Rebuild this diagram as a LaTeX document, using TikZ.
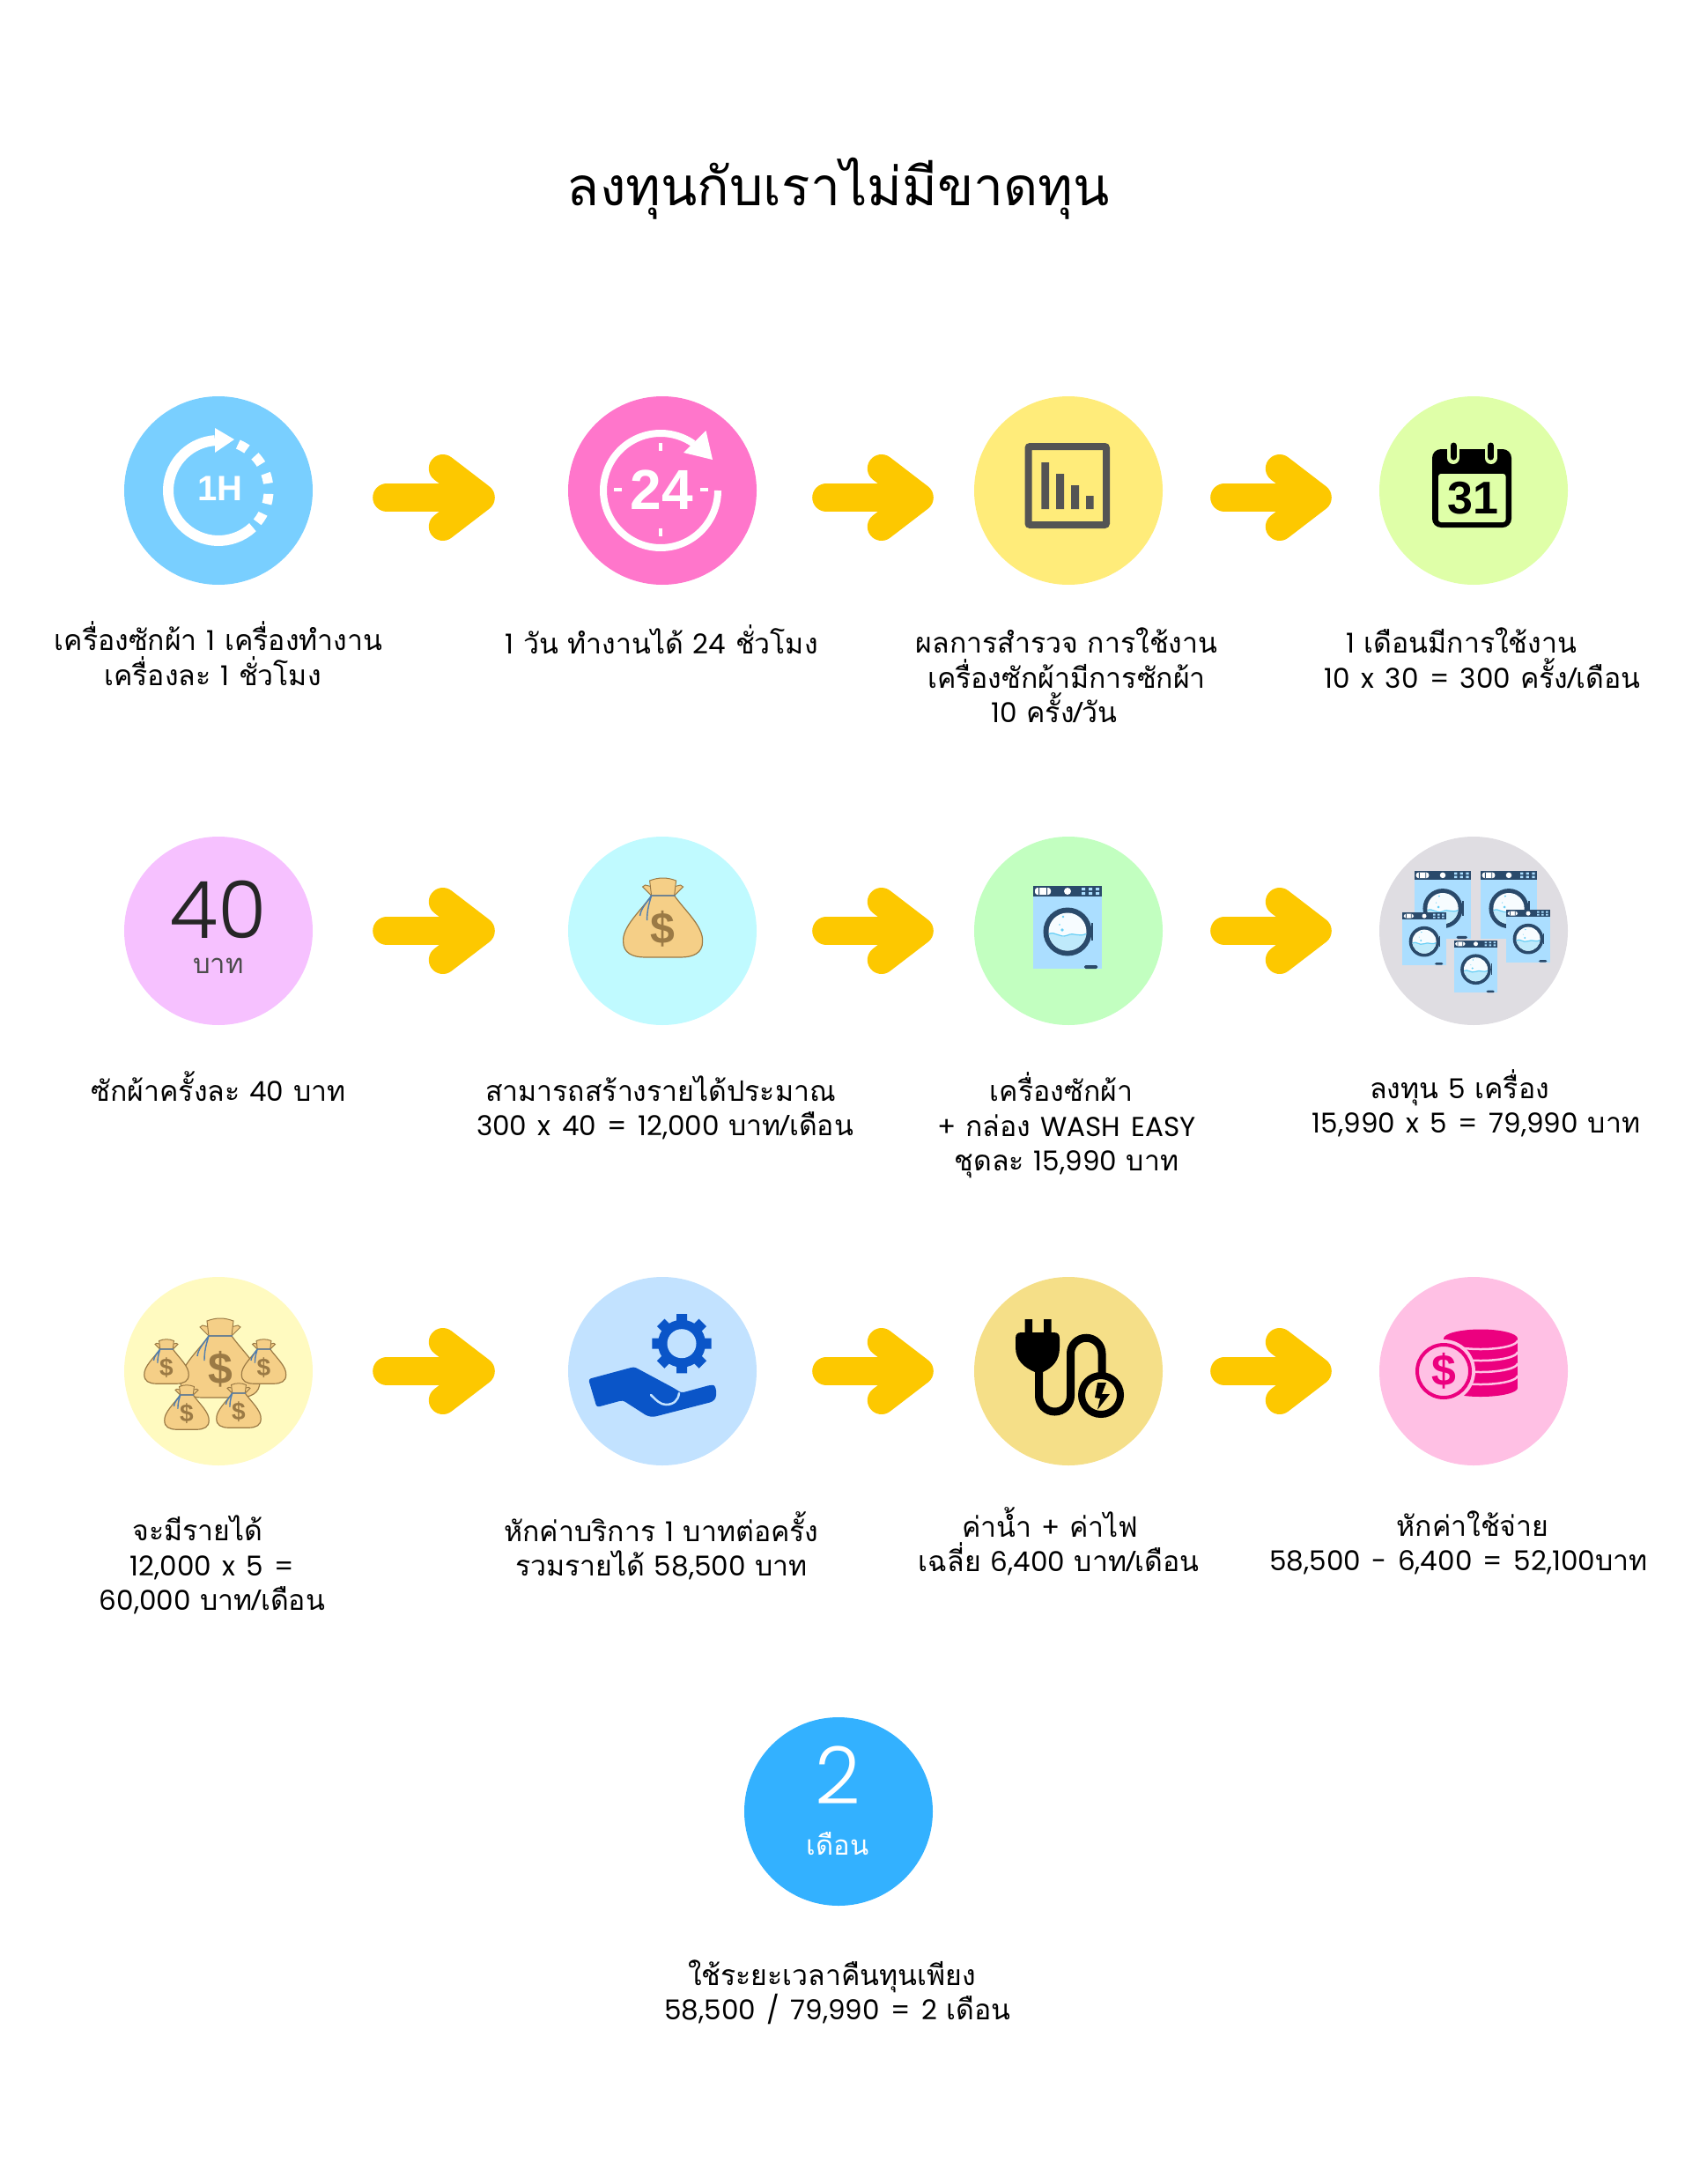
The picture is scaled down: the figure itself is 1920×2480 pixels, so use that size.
\documentclass[tikz,border=0pt]{standalone}
\usepackage{fontspec}
\setmainfont{Loma}[Script=Thai]
\newfontfamily\nmfont{Poppins}[Scale=0.97,WordSpace=1.5]
\newfontfamily\lightfont{Poppins}[UprightFont=* Light]
\newfontfamily\iconfont{Liberation Sans}
\usetikzlibrary{arrows.meta}
\newcommand{\nm}[1]{{\nmfont #1}}
\definecolor{skyc}{HTML}{79CFFF}
\definecolor{pinkc}{HTML}{FF76CB}
\definecolor{yelc}{HTML}{FFEC7A}
\definecolor{limec}{HTML}{DFFFA8}
\definecolor{lilac}{HTML}{F6C1FF}
\definecolor{aquac}{HTML}{C0FAFF}
\definecolor{mintc}{HTML}{C2FFC0}
\definecolor{greyc}{HTML}{DFDDE2}
\definecolor{creamc}{HTML}{FFFAC0}
\definecolor{paleblue}{HTML}{C2E2FF}
\definecolor{sandc}{HTML}{F5DF88}
\definecolor{rosec}{HTML}{FFC0E4}
\definecolor{bluec}{HTML}{33B1FF}
\definecolor{arrowc}{HTML}{FDC800}
\definecolor{bagc}{HTML}{F5CF87}
\definecolor{bagline}{HTML}{9B7A45}
\definecolor{stringc}{HTML}{4F7DB0}
\definecolor{navyc}{HTML}{2A4A6B}
\definecolor{tubc}{HTML}{ABDEFF}
\definecolor{handc}{HTML}{0A55C8}
\definecolor{coinc}{HTML}{EC007F}
\tikzset{
  disc/.style={circle,minimum size=214pt,inner sep=0pt,fill=#1},
  lab/.style={align=center,inner sep=0pt,font=\fontsize{32}{39.5}\selectfont},
  flow/.style={arrowc,line width=32pt,line cap=round,
    -{Straight Barb[length=43pt,width=66pt,line width=32pt,round]}},
  flowa/.style={flow,shorten <=84pt,shorten >=83pt},
  flowb/.style={flow,shorten <=79pt,shorten >=46pt},
  flowc/.style={flow,shorten <=70pt,shorten >=54pt},
  bag/.pic={
    \fill[bagc,draw=bagline,line width=1pt] (-13,-25) -- (-23,-35) -- (-20,-37) -- (-8,-34) -- (8,-34) -- (20,-37) -- (23,-35) -- (13,-25) -- cycle;
    \fill[bagc,draw=bagline,line width=1pt] (-13,-25) -- (-15,-42) .. controls (-5,-46) and (5,-46) .. (15,-42) -- (13,-25) -- cycle;
    \fill[bagc,draw=bagline,line width=1.2pt] (-13,-25) .. controls (-25,-8) and (-46,10) .. (-45,27) .. controls (-45,40) and (-35,45) .. (-20,45) -- (20,45) .. controls (35,45) and (45,40) .. (45,27) .. controls (46,10) and (25,-8) .. (13,-25) -- cycle;
    \draw[stringc,line width=1.4pt] (-14,-25) -- (14,-25) (-13,-25) .. controls (-20,-15) and (-25,-10) .. (-26,-2) (-13,-25) .. controls (-16,-15) and (-18,-8) .. (-18,3);
    \node[inner sep=0pt,bagline,font=\iconfont\bfseries\fontsize{#1}{#1}\selectfont] (dollar) at (0,13) {\$};
  },
  washer/.pic={
    \fill[tubc] (-39,-47) rectangle (39,47);
    \fill[navyc] (-39,-47) rectangle (39,-35);
    \fill[white,rounded corners=3pt] (-37,-45) rectangle (-19,-37);
    \fill[navyc] (-33,-45) rectangle (-32,-37) (-24,-45) rectangle (-23,-37);
    \fill[white] (0,-41) circle (4);
    \fill[tubc] (16,-45) rectangle (20,-42) (24,-45) rectangle (28,-42) (32,-45) rectangle (36,-42)
      (16,-40) rectangle (20,-37) (24,-40) rectangle (28,-37) (32,-40) rectangle (36,-37);
    \fill[navyc] (0,5) circle (27.5);
    \fill[navyc] (27,-5) rectangle (29,15);
    \fill[white!90!tubc] (0,5) circle (21.5);
    \begin{scope}
      \clip (0,5) circle (21.5);
      \fill[cyan!25!white] (-22,8) .. controls (-14,3) and (-10,13) .. (0,9) .. controls (8,5) and (12,12) .. (22,7) -- (22,30) -- (-22,30) -- cycle;
      \draw[cyan!60!white,line width=1.2pt] (-22,8) .. controls (-14,3) and (-10,13) .. (0,9) .. controls (8,5) and (12,12) .. (22,7);
    \end{scope}
    \fill[cyan!60!white] (-6,3) circle (1.8) (-5,-12) circle (1.3) (-9,-3) circle (0.8);
    \fill[navyc,rounded corners=1.5pt] (19,43) rectangle (34,47);
  }
}
\begin{document}
\begin{tikzpicture}[x=1pt,y=1pt,yscale=-1,every pic/.style={yscale=-1}]
  \useasboundingbox (0,0) rectangle (1920,2480);
  \node[inner sep=0pt,font=\fontsize{60.5}{70}\selectfont] (title) at (952,214) {ลงทุนกับเราไม่มีขาดทุน};

  % first row
  \node[disc=skyc] (c11) at (248,557) {};
  \node[disc=pinkc] (c12) at (752,557) {};
  \node[disc=yelc] (c13) at (1213,557) {};
  \node[disc=limec] (c14) at (1673,557) {};
  \draw[flowa] ([yshift=8pt]c11.east) -- ([yshift=8pt]c12.west);
  \draw[flowb] ([yshift=8pt]c12.east) -- ([yshift=8pt]c13.west);
  \draw[flowc] ([yshift=8pt]c13.east) -- ([yshift=8pt]c14.west);
  \node[lab] (t11) at (248,742) {เครื่องซักผ้า \nm{1} เครื่องทำงาน\\เครื่องละ \nm{1} ชั่วโมง\hspace*{13pt}};
  \node[lab] (t12) at (751,726) {\nm{1} วัน ทำงานได้ \nm{24} ชั่วโมง};
  \node[lab] (t13) at (1211,767) {ผลการสำรวจ การใช้งาน\\เครื่องซักผ้ามีการซักผ้า\hspace*{12pt}\\\nm{10} ครั้ง/วัน\hspace*{28pt}};
  \node[lab] (t14) at (1683,747) {\nm{1} เดือนมีการใช้งาน\hspace*{48pt}\\\nm{10 x 30 = 300} ครั้ง/เดือน};

  % second row
  \node[disc=lilac] (c21) at (248,1057) {};
  \node[disc=aquac] (c22) at (752,1057) {};
  \node[disc=mintc] (c23) at (1213,1057) {};
  \node[disc=greyc] (c24) at (1673,1057) {};
  \draw[flowa] (c21.east) -- (c22.west);
  \draw[flowb] (c22.east) -- (c23.west);
  \draw[flowc] (c23.east) -- (c24.west);
  \node[lab] (t21) at (248,1234) {ซักผ้าครั้งละ \nm{40} บาท};
  \node[lab] (t22) at (755,1258) {สามารถสร้างรายได้ประมาณ\hspace*{10pt}\\\nm{300 x 40 = 12,000} บาท/เดือน};
  \node[lab] (t23) at (1211,1278) {เครื่องซักผ้า\hspace*{12pt}\\\nm{+} กล่อง \nm{WASH EASY}\\ชุดละ \nm{15,990} บาท};
  \node[lab] (t24) at (1676,1253) {ลงทุน \nm{5} เครื่อง\hspace*{38pt}\\\nm{15,990 x 5 = 79,990} บาท};

  % third row
  \node[disc=creamc] (c31) at (248,1557) {};
  \node[disc=paleblue] (c32) at (752,1557) {};
  \node[disc=sandc] (c33) at (1213,1557) {};
  \node[disc=rosec] (c34) at (1673,1557) {};
  \draw[flowa] (c31.east) -- (c32.west);
  \draw[flowb] (c32.east) -- (c33.west);
  \draw[flowc] (c33.east) -- (c34.west);
  \node[lab] (t31) at (241,1777) {จะมีรายได้\hspace*{33pt}\\\nm{12,000 x 5 =}\\\nm{60,000} บาท/เดือน};
  \node[lab] (t32) at (751,1755) {หักค่าบริการ \nm{1} บาทต่อครั้ง\\รวมรายได้ \nm{58,500} บาท};
  \node[lab] (t33) at (1202,1750) {ค่าน้ำ \nm{+} ค่าไฟ\hspace*{19pt}\\เฉลี่ย \nm{6,400} บาท/เดือน};
  \node[lab] (t34) at (1656,1752) {\hspace*{32pt}หักค่าใช้จ่าย\\\nm{58,500 - 6,400 = 52,100}บาท};

  % last one
  \node[disc=bluec] (c41) at (952,2057) {};
  \node[lab] (t41) at (951,2262) {ใช้ระยะเวลาคืนทุนเพียง\hspace*{13pt}\\\nm{58,500 / 79,990 = 2} เดือน};

  % one hour
  \draw[white,line width=12pt] ([shift={(248,557)}]47:57) arc[start angle=47,end angle=266,radius=57];
  \fill[white] (244,486) -- (266,499) -- (244,514) -- cycle;
  \draw[white,line width=11pt,dash pattern=on 11.5pt off 12pt] ([shift={(248,557)}]-67:57) arc[start angle=-67,end angle=40,radius=57];
  \node[white,inner sep=0pt,font=\iconfont\bfseries\fontsize{40}{40}\selectfont] (hour) at (250,555) {1H};

  % twenty four
  \draw[white,line width=8pt] (815,557) arc[start angle=0,end angle=305,radius=65];
  \fill[white] (801.5,489) -- (809,522) -- (776,514) -- cycle;
  \draw[white,line width=4pt] (750,503) -- (750,512) (750,600) -- (750,609) (697,556) -- (706,556) (795,556) -- (804,556);
  \node[white,inner sep=0pt,font=\iconfont\bfseries\fontsize{64}{64}\selectfont] (day) at (751,556) {24};

  % chart
  \draw[black!67,line width=8pt,rounded corners=2pt] (1167.5,507) rectangle (1256,596);
  \fill[black!67] (1182.4,525) rectangle (1191,578) (1199,538) rectangle (1208,578) (1216,551) rectangle (1225,578) (1233,563) rectangle (1241.6,578);

  % calendar
  \fill[black,rounded corners=10pt] (1626,510) rectangle (1716,599);
  \fill[limec,rounded corners=3pt] (1633,538) rectangle (1709.5,593);
  \draw[limec,line width=14pt,line cap=round] (1650,508) -- (1650,520) (1692.6,508) -- (1692.6,520);
  \draw[black,line width=7pt,line cap=round] (1650,506) -- (1650,519) (1692.6,506) -- (1692.6,519);
  \node[black,inner sep=0pt,font=\iconfont\bfseries\fontsize{52}{52}\selectfont] (date) at (1672,566) {31};

  % price
  \node[inner sep=0pt,black!85,font=\lightfont\fontsize{90}{90}\selectfont] (price) at (248,1033) {40};
  \node[inner sep=0pt,black!70,font=\fontsize{31}{31}\selectfont] (baht) at (248,1097) {บาท};

  % money and machines
  \pic at (752.6,1042) {bag=50};
  \pic at (1212,1053) {washer};
  \pic[scale=.82] at (1638,1027.5) {washer};
  \pic[scale=.82] at (1713,1027.5) {washer};
  \pic[scale=.63] at (1617,1066) {washer};
  \pic[scale=.63] at (1735,1063) {washer};
  \pic[scale=.63] at (1675.5,1097.6) {washer};
  \pic at (250,1542) {bag=50};
  \pic[scale=.56] at (189,1546) {bag=28};
  \pic[scale=.56] at (299.5,1546) {bag=28};
  \pic[scale=.56] at (212,1598) {bag=28};
  \pic[scale=.56] at (271,1596) {bag=28};

  % gear and hand
  \draw[handc,line width=12pt] (740.3,1525.7) -- (807.7,1525.7) (774,1492) -- (774,1559.4) (750.2,1501.9) -- (797.8,1549.5) (750.2,1549.5) -- (797.8,1501.9);
  \fill[handc] (774,1525.7) circle (27);
  \fill[paleblue] (774,1525.7) circle (16.5);
  \fill[handc,rounded corners=3pt] (668,1566) -- (720,1552) -- (766,1576.7) -- (773.5,1581.7) -- (806.6,1572.7) .. controls (813,1573) and (815,1585) .. (809,1591.7) -- (742,1609) -- (735,1608) -- (707,1590) -- (677.5,1598) -- cycle;
  \draw[paleblue,line width=2.5pt,line cap=round] (739,1584) .. controls (745,1590) and (750,1595) .. (756,1595) .. controls (765,1595) and (770,1590) .. (771,1582);

  % plug
  \fill[black] (1163.6,1498) rectangle (1172,1515) (1185,1498) rectangle (1193.7,1515);
  \fill[black] (1153,1520) .. controls (1153,1515) and (1155,1513) .. (1160,1513) -- (1196,1513) .. controls (1201,1513) and (1203,1515) .. (1203,1520) -- (1203,1530) .. controls (1203,1545) and (1195,1553) .. (1184,1558) -- (1175,1558) .. controls (1163,1553) and (1153,1545) .. (1153,1530) -- cycle;
  \draw[black,line width=9pt] (1179.5,1555) -- (1179.5,1585) arc[start angle=180,end angle=0,radius=18] -- (1215.5,1537) arc[start angle=180,end angle=360,radius=17.75] -- (1251,1560);
  \draw[black,line width=8pt] (1250,1584) circle (22);
  \fill[black] (1246,1570) -- (1256,1570) -- (1251,1583) -- (1260,1583) -- (1246,1600.7) -- (1249,1588) -- (1243,1587) -- cycle;

  % coins
  \fill[coinc] (1639,1520) rectangle (1723,1576);
  \fill[coinc] (1681,1576) ellipse (42 and 10);
  \fill[coinc] (1681,1520) ellipse (42 and 10.5);
  \draw[rosec,line width=2.5pt] (1639,1522) arc[start angle=180,end angle=0,x radius=42,y radius=10] (1639,1535) arc[start angle=180,end angle=0,x radius=42,y radius=10] (1639,1548) arc[start angle=180,end angle=0,x radius=42,y radius=10] (1639,1562) arc[start angle=180,end angle=0,x radius=42,y radius=10];
  \fill[rosec] (1639,1557) circle (36);
  \draw[coinc,line width=4pt] (1639,1557) circle (30);
  \node[coinc,inner sep=0pt,font=\iconfont\bfseries\fontsize{50}{50}\selectfont] (cash) at (1639,1557) {\$};

  % months
  \node[inner sep=0pt,white,font=\lightfont\fontsize{90}{90}\selectfont] (two) at (951,2016) {2};
  \node[inner sep=0pt,white,font=\fontsize{31}{31}\selectfont] (month) at (951,2094) {เดือน};
\end{tikzpicture}
\end{document}
